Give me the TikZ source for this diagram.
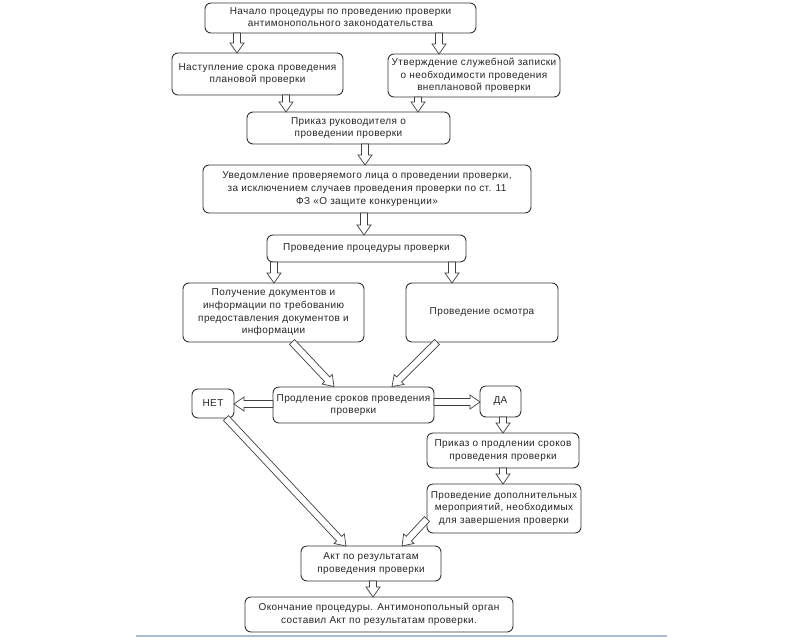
\documentclass[tikz,border=0pt]{standalone}
\usepackage{fontspec}
\setmainfont[LetterSpace=4]{Liberation Sans}
\usetikzlibrary{calc}
\definecolor{sepblue}{RGB}{170,187,214}
\tikzset{
  box/.style={draw=black!80, line width=0.9pt, rounded corners=6pt, fill=white,
    align=center, inner sep=1pt, outer sep=0pt,
    font=\fontsize{10}{12.7}\selectfont, text=black!85},
  barrowline/.style={draw=black!75, line width=0.7pt, fill=white, line join=miter},
}
\newcommand\barrow[2]{%
  \coordinate (ba) at (#1);
  \coordinate (bb) at (#2);
  \coordinate (bh) at ($(bb)!10pt!(ba)$);
  \draw[barrowline] ($(ba)!3.5pt!90:(bb)$) -- ($(bh)!3.5pt!90:(bb)$) -- ($(bh)!7pt!90:(bb)$)
    -- (bb) -- ($(bh)!7pt!-90:(bb)$) -- ($(bh)!3.5pt!-90:(bb)$) -- ($(ba)!3.5pt!-90:(bb)$) -- cycle;
}
\begin{document}
\begin{tikzpicture}[x=1pt,y=-1pt]
\useasboundingbox (0,0) rectangle (800,640);
\fill[white] (0,0) rectangle (800,640);

\node[box, minimum width=271pt, minimum height=30pt] (start) at (340.5,18)
  {Начало процедуры по проведению проверки\\антимонопольного законодательства};
\node[box, minimum width=171pt, minimum height=42pt] (nast) at (257.5,74)
  {Наступление срока проведения\\плановой проверки};
\node[box, minimum width=172pt, minimum height=43pt] (utv) at (474,75.5)
  {Утверждение служебной записки\\о необходимости проведения\\внеплановой проверки};
\node[box, minimum width=203pt, minimum height=32pt] (prik) at (348.5,128)
  {Приказ руководителя о\\проведении проверки};
\node[box, minimum width=328pt, minimum height=48pt] (uved) at (367,189)
  {Уведомление проверяемого лица о проведении проверки,\\за исключением случаев проведения проверки по ст. 11\\ФЗ «О защите конкуренции»};
\node[box, minimum width=199pt, minimum height=27pt] (proc) at (366.5,248.5)
  {Проведение процедуры проверки};
\node[box, minimum width=181pt, minimum height=59pt] (pol) at (273.5,312.5)
  {Получение документов и\\информации по требованию\\предоставления документов и\\информации};
\node[box, minimum width=152pt, minimum height=59pt] (osm) at (482,312.5)
  {Проведение осмотра};
\node[box, minimum width=161pt, minimum height=36pt] (prod) at (353.5,405)
  {Продление сроков проведения\\проверки};
\node[box, minimum width=42pt, minimum height=29pt] (net) at (213,403.5) {НЕТ};
\node[box, minimum width=41pt, minimum height=31pt] (da) at (500.5,401.5) {ДА};
\node[box, minimum width=152pt, minimum height=35pt] (prikp) at (503,450.5)
  {Приказ о продлении сроков\\проведения проверки};
\node[box, minimum width=154pt, minimum height=49pt] (dop) at (504,508.5)
  {Проведение дополнительных\\мероприятий, необходимых\\для завершения проверки};
\node[box, minimum width=140pt, minimum height=35pt] (akt) at (371,563.5)
  {Акт по результатам\\проведения проверки};
\node[box, minimum width=268pt, minimum height=35pt] (okon) at (379,614.5)
  {Окончание процедуры. Антимонопольный орган\\составил Акт по результатам проверки.};

\barrow{[xshift=-103.5pt]start.south}{[xshift=-20.5pt]nast.north}
\barrow{[xshift=98.5pt]start.south}{[xshift=-35pt]utv.north}
\barrow{[xshift=28.5pt]nast.south}{[xshift=-62.5pt]prik.north}
\barrow{[xshift=-56pt]utv.south}{[xshift=69.5pt]prik.north}
\barrow{[xshift=16.5pt]prik.south}{[xshift=-2pt]uved.north}
\barrow{[xshift=-3pt]uved.south}{[xshift=-2.5pt]proc.north}
\barrow{[xshift=-92.5pt]proc.south}{[xshift=0.5pt]pol.north}
\barrow{[xshift=85.5pt]proc.south}{[xshift=-30pt]osm.north}
\barrow{[xshift=18.5pt]pol.south}{[xshift=-19.5pt,yshift=0.5pt]prod.north}
\barrow{[xshift=-45pt]osm.south}{[xshift=38.5pt,yshift=0.5pt]prod.north}
\barrow{[yshift=1pt]prod.west}{[yshift=-0.5pt]net.east}
\barrow{[yshift=3pt]prod.east}{[yshift=-0.5pt]da.west}
\barrow{[xshift=2.5pt]da.south}{prikp.north}
\barrow{prikp.south}{[xshift=-1pt]dop.north}
\barrow{[xshift=13pt]net.south}{[xshift=-25pt]akt.north}
\barrow{[yshift=-10.5pt]dop.west}{[xshift=31pt]akt.north}
\barrow{[xshift=2pt]akt.south}{[xshift=-6pt]okon.north}

\draw[sepblue, line width=1.5pt] (136,636) -- (667,636);
\end{tikzpicture}
\end{document}
